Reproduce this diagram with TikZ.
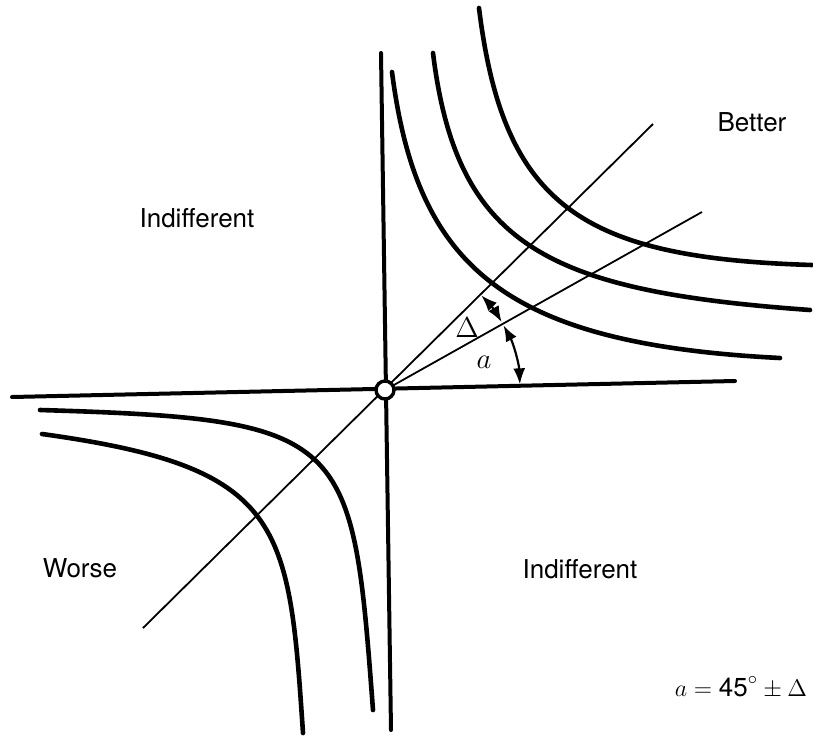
\documentclass[tikz,border=0pt]{standalone}
\usepackage{fontspec}
\setmainfont{TeX Gyre Heros}
\usetikzlibrary{arrows.meta}
\tikzset{
    curve/.style={line width=2.3pt, line cap=round},
    axis/.style={line width=2pt, line cap=round},
    ray/.style={line width=0.9pt},
    anglearc/.style={line width=1.1pt, {Latex[length=8pt,width=6pt]}-{Latex[length=8pt,width=6pt]}},
    region/.style={font=\fontsize{13}{15}\selectfont},
    symb/.style={font=\fontsize{15}{17}\selectfont},
    hub/.style={circle, draw, fill=white, line width=1.7pt, minimum size=9pt, inner sep=0pt}
}
\begin{document}
\begin{tikzpicture}[x=0.5pt,y=0.5pt]
        \useasboundingbox (-385,-345) rectangle (428,390);
        \coordinate (O) at (0,0);

        % axes and rays
        \draw [axis] (-373,-7) -- (350,9);
        \draw [axis] (-4,337) -- (6,-340);
        \draw [ray] (-242,-238) -- (268,266);
        \draw [ray] (O) -- (317,178);

        % better side
        \draw [curve] (7,318) .. controls (32,123) and (119,46) .. (395,32);
        \draw [curve] (48,337) .. controls (71.8,143.4) and (162.5,98.9) .. (425,80);
        \draw [curve] (94,382) .. controls (118.3,184.4) and (196,131.9) .. (427,125);

        % worse side
        \draw [curve] (-345,-20) .. controls (-35,-29.3) and (-32.7,-44) .. (-12,-320);
        \draw [curve] (-343,-44) .. controls (-101,-77.4) and (-96.1,-132.2) .. (-82,-343);

        \node (origin) [hub] at (O) {};

        % angles
        \draw [anglearc] (O) ++(44.5:135) arc[start angle=44.5, end angle=30.2, radius=135];
        \draw [anglearc] (O) ++(28.6:135) arc[start angle=28.6, end angle=2.4, radius=135];
        \node (delta) [symb] at (82,62) {$\Delta$};
        \node (alpha) [symb] at (99,28) {$a$};

        \node (indiff1) [region] at (-188,172) {Indifferent};
        \node (indiff2) [region] at (195,-179) {Indifferent};
        \node (worse) [region] at (-305,-178) {Worse};
        \node (better) [region] at (367,268) {Better};
        \node (rule) [region] at (356,-297) {$a = \mbox{45}^{\circ} \pm \Delta$};
    \end{tikzpicture}
\end{document}
